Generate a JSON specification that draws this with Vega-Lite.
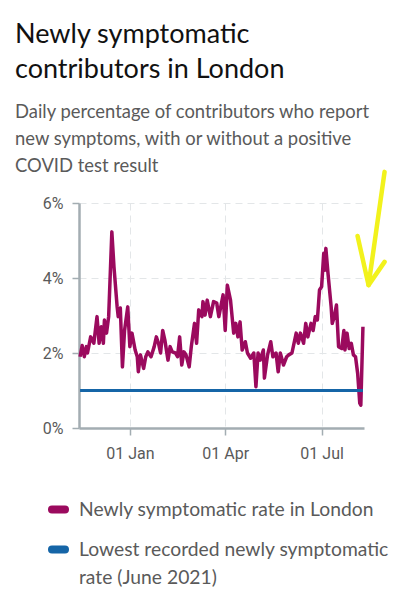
{
  "$schema": "https://vega.github.io/schema/vega-lite/v6.json",
  "width": 285,
  "height": 225,
  "autosize": {"type": "none"},
  "padding": {"left": 79, "top": 203, "right": 35, "bottom": 172},
  "background": "white",
  "config": {
    "view": {"stroke": null},
    "axis": {"labelFont": "Roboto", "labelFontSize": 16, "labelColor": "#5a5a5a", "domainColor": "#a3adb2", "domainWidth": 2.5, "tickColor": "#a3adb2", "tickWidth": 1.5, "tickSize": 7, "gridColor": "#e3e6e8", "gridDash": [7, 5], "gridWidth": 1, "title": null}
  },
  "title": {
    "text": ["Newly symptomatic", "contributors in London"],
    "subtitle": ["Daily percentage of contributors who report", "new symptoms, with or without a positive", "COVID test result"],
    "anchor": "start",
    "frame": "group",
    "dx": -64,
    "font": "Lato",
    "fontSize": 27,
    "fontWeight": "normal",
    "color": "#111111",
    "lineHeight": 35,
    "subtitleFont": "Lato",
    "subtitleFontSize": 18.4,
    "subtitleColor": "#5a5a5a",
    "subtitleLineHeight": 27,
    "subtitlePadding": 19,
    "offset": -7
  },
  "datasets": {
    "london": [
      {"date": "2021-11-15T00:00:00", "value": 1.9},
      {"date": "2021-11-17T00:00:00", "value": 2.2},
      {"date": "2021-11-19T00:00:00", "value": 1.9},
      {"date": "2021-11-21T00:00:00", "value": 2.17},
      {"date": "2021-11-22T00:00:00", "value": 2.0},
      {"date": "2021-11-25T00:00:00", "value": 2.43},
      {"date": "2021-11-28T00:00:00", "value": 2.26},
      {"date": "2021-12-01T00:00:00", "value": 2.97},
      {"date": "2021-12-03T00:00:00", "value": 2.26},
      {"date": "2021-12-05T00:00:00", "value": 2.7},
      {"date": "2021-12-07T00:00:00", "value": 2.26},
      {"date": "2021-12-08T00:00:00", "value": 2.88},
      {"date": "2021-12-10T00:00:00", "value": 2.53},
      {"date": "2021-12-12T00:00:00", "value": 2.97},
      {"date": "2021-12-15T00:00:00", "value": 5.23},
      {"date": "2021-12-17T00:00:00", "value": 4.3},
      {"date": "2021-12-20T00:00:00", "value": 3.23},
      {"date": "2021-12-21T00:00:00", "value": 2.97},
      {"date": "2021-12-23T00:00:00", "value": 3.2},
      {"date": "2021-12-25T00:00:00", "value": 1.63},
      {"date": "2021-12-27T00:00:00", "value": 2.6},
      {"date": "2021-12-30T00:00:00", "value": 3.23},
      {"date": "2022-01-01T00:00:00", "value": 2.17},
      {"date": "2022-01-03T00:00:00", "value": 2.53},
      {"date": "2022-01-06T00:00:00", "value": 2.08},
      {"date": "2022-01-08T00:00:00", "value": 1.9},
      {"date": "2022-01-09T00:00:00", "value": 1.5},
      {"date": "2022-01-11T00:00:00", "value": 1.95},
      {"date": "2022-01-14T00:00:00", "value": 1.59},
      {"date": "2022-01-16T00:00:00", "value": 1.9},
      {"date": "2022-01-18T00:00:00", "value": 2.03},
      {"date": "2022-01-21T00:00:00", "value": 1.9},
      {"date": "2022-01-24T00:00:00", "value": 2.17},
      {"date": "2022-01-26T00:00:00", "value": 2.43},
      {"date": "2022-01-28T00:00:00", "value": 2.26},
      {"date": "2022-01-30T00:00:00", "value": 2.0},
      {"date": "2022-02-01T00:00:00", "value": 2.6},
      {"date": "2022-02-03T00:00:00", "value": 2.35},
      {"date": "2022-02-06T00:00:00", "value": 1.81},
      {"date": "2022-02-08T00:00:00", "value": 2.17},
      {"date": "2022-02-10T00:00:00", "value": 2.03},
      {"date": "2022-02-13T00:00:00", "value": 2.0},
      {"date": "2022-02-15T00:00:00", "value": 1.9},
      {"date": "2022-02-17T00:00:00", "value": 2.43},
      {"date": "2022-02-19T00:00:00", "value": 1.68},
      {"date": "2022-02-21T00:00:00", "value": 2.03},
      {"date": "2022-02-23T00:00:00", "value": 1.95},
      {"date": "2022-02-26T00:00:00", "value": 1.63},
      {"date": "2022-02-28T00:00:00", "value": 2.17},
      {"date": "2022-03-03T00:00:00", "value": 2.79},
      {"date": "2022-03-05T00:00:00", "value": 2.26},
      {"date": "2022-03-07T00:00:00", "value": 3.15},
      {"date": "2022-03-10T00:00:00", "value": 2.97},
      {"date": "2022-03-11T00:00:00", "value": 3.37},
      {"date": "2022-03-13T00:00:00", "value": 3.01},
      {"date": "2022-03-15T00:00:00", "value": 3.41},
      {"date": "2022-03-18T00:00:00", "value": 2.97},
      {"date": "2022-03-21T00:00:00", "value": 3.37},
      {"date": "2022-03-24T00:00:00", "value": 3.33},
      {"date": "2022-03-26T00:00:00", "value": 2.97},
      {"date": "2022-03-30T00:00:00", "value": 3.55},
      {"date": "2022-04-01T00:00:00", "value": 2.6},
      {"date": "2022-04-03T00:00:00", "value": 3.81},
      {"date": "2022-04-06T00:00:00", "value": 3.41},
      {"date": "2022-04-09T00:00:00", "value": 2.53},
      {"date": "2022-04-11T00:00:00", "value": 2.79},
      {"date": "2022-04-13T00:00:00", "value": 2.43},
      {"date": "2022-04-15T00:00:00", "value": 2.83},
      {"date": "2022-04-17T00:00:00", "value": 2.08},
      {"date": "2022-04-20T00:00:00", "value": 2.3},
      {"date": "2022-04-22T00:00:00", "value": 2.0},
      {"date": "2022-04-25T00:00:00", "value": 1.86},
      {"date": "2022-04-28T00:00:00", "value": 2.0},
      {"date": "2022-04-30T00:00:00", "value": 1.1},
      {"date": "2022-05-02T00:00:00", "value": 2.0},
      {"date": "2022-05-04T00:00:00", "value": 1.81},
      {"date": "2022-05-07T00:00:00", "value": 2.08},
      {"date": "2022-05-08T00:00:00", "value": 1.33},
      {"date": "2022-05-11T00:00:00", "value": 1.95},
      {"date": "2022-05-14T00:00:00", "value": 2.3},
      {"date": "2022-05-16T00:00:00", "value": 1.9},
      {"date": "2022-05-19T00:00:00", "value": 2.0},
      {"date": "2022-05-21T00:00:00", "value": 1.5},
      {"date": "2022-05-23T00:00:00", "value": 2.0},
      {"date": "2022-05-26T00:00:00", "value": 1.68},
      {"date": "2022-05-29T00:00:00", "value": 1.9},
      {"date": "2022-05-31T00:00:00", "value": 1.95},
      {"date": "2022-06-03T00:00:00", "value": 2.0},
      {"date": "2022-06-07T00:00:00", "value": 2.53},
      {"date": "2022-06-09T00:00:00", "value": 2.26},
      {"date": "2022-06-11T00:00:00", "value": 2.53},
      {"date": "2022-06-14T00:00:00", "value": 2.26},
      {"date": "2022-06-16T00:00:00", "value": 2.79},
      {"date": "2022-06-18T00:00:00", "value": 2.43},
      {"date": "2022-06-21T00:00:00", "value": 2.79},
      {"date": "2022-06-23T00:00:00", "value": 2.6},
      {"date": "2022-06-25T00:00:00", "value": 2.97},
      {"date": "2022-06-27T00:00:00", "value": 2.88},
      {"date": "2022-06-29T00:00:00", "value": 3.68},
      {"date": "2022-07-01T00:00:00", "value": 3.77},
      {"date": "2022-07-03T00:00:00", "value": 4.66},
      {"date": "2022-07-04T00:00:00", "value": 4.21},
      {"date": "2022-07-05T00:00:00", "value": 4.79},
      {"date": "2022-07-07T00:00:00", "value": 4.13},
      {"date": "2022-07-10T00:00:00", "value": 3.23},
      {"date": "2022-07-11T00:00:00", "value": 2.79},
      {"date": "2022-07-13T00:00:00", "value": 2.97},
      {"date": "2022-07-15T00:00:00", "value": 3.28},
      {"date": "2022-07-17T00:00:00", "value": 2.17},
      {"date": "2022-07-20T00:00:00", "value": 2.12},
      {"date": "2022-07-22T00:00:00", "value": 2.6},
      {"date": "2022-07-23T00:00:00", "value": 2.08},
      {"date": "2022-07-25T00:00:00", "value": 2.53},
      {"date": "2022-07-27T00:00:00", "value": 2.12},
      {"date": "2022-07-29T00:00:00", "value": 2.26},
      {"date": "2022-07-31T00:00:00", "value": 1.95},
      {"date": "2022-08-02T00:00:00", "value": 1.9},
      {"date": "2022-08-04T00:00:00", "value": 1.46},
      {"date": "2022-08-06T00:00:00", "value": 0.66},
      {"date": "2022-08-07T00:00:00", "value": 0.61},
      {"date": "2022-08-09T00:00:00", "value": 2.7}
    ],
    "lowest": [
      {"date": "2021-11-15T00:00:00", "value": 1.0},
      {"date": "2022-08-09T00:00:00", "value": 1.0}
    ],
    "arrow": [
      {"part": "shaft", "order": 1, "date": "2022-08-29T10:00:00", "value": 6.83},
      {"part": "shaft", "order": 2, "date": "2022-08-14T07:00:00", "value": 3.81},
      {"part": "head", "order": 1, "date": "2022-08-03T22:00:00", "value": 5.12},
      {"part": "head", "order": 2, "date": "2022-08-14T07:00:00", "value": 3.81},
      {"part": "head", "order": 3, "date": "2022-08-29T10:00:00", "value": 4.43}
    ]
  },
  "layer": [
    {
      "data": {"name": "london"},
      "transform": [{"calculate": "'Newly symptomatic rate in London'", "as": "series"}],
      "mark": {"type": "line", "strokeWidth": 3.5, "strokeJoin": "round"},
      "encoding": {
        "x": {
          "field": "date", "type": "temporal",
          "scale": {"domain": [{"year": 2021, "month": 11, "date": 14}, {"year": 2022, "month": 8, "date": 10}]},
          "axis": {
            "values": [{"year": 2022, "month": 1, "date": 1}, {"year": 2022, "month": 4, "date": 1}, {"year": 2022, "month": 7, "date": 1}],
            "format": "%d %b", "labelPadding": 10, "grid": true
          }
        },
        "y": {
          "field": "value", "type": "quantitative",
          "scale": {"domain": [0, 6], "nice": false},
          "axis": {"values": [0, 2, 4, 6], "labelExpr": "datum.value + '%'", "labelPadding": 9, "grid": true}
        },
        "color": {
          "field": "series", "type": "nominal",
          "scale": {"domain": ["Newly symptomatic rate in London", "Lowest recorded newly symptomatic rate (June 2021)"], "range": ["#9b0a5e", "#1565a7"]},
          "legend": {
            "title": null,
            "orient": "none",
            "legendX": -31,
            "legendY": 296,
            "direction": "vertical",
            "symbolType": "stroke",
            "symbolSize": 169,
            "symbolStrokeWidth": 8,
            "labelFont": "Lato",
            "labelFontSize": 19.3,
            "labelColor": "#5a5a5a",
            "labelOffset": 10,
            "labelLimit": 400,
            "labelBaseline": "alphabetic",
            "rowPadding": 7,
            "labelExpr": "datum.label == 'Lowest recorded newly symptomatic rate (June 2021)' ? ['Lowest recorded newly symptomatic', 'rate (June 2021)'] : datum.label",
            "encode": {
              "symbols": {"update": {"strokeCap": {"value": "round"}}},
              "labels": {"update": {"dy": {"value": 6}, "lineHeight": {"value": 28}}}
            }
          }
        }
      }
    },
    {
      "data": {"name": "lowest"},
      "transform": [{"calculate": "'Lowest recorded newly symptomatic rate (June 2021)'", "as": "series"}],
      "mark": {"type": "line", "strokeWidth": 3},
      "encoding": {
        "x": {"field": "date", "type": "temporal"},
        "y": {"field": "value", "type": "quantitative"},
        "color": {"field": "series", "type": "nominal"}
      }
    },
    {
      "data": {"name": "arrow"},
      "mark": {"type": "line", "color": "#f2f21c", "strokeWidth": 4.5, "strokeCap": "round", "strokeJoin": "round", "clip": false},
      "encoding": {
        "x": {"field": "date", "type": "temporal"},
        "y": {"field": "value", "type": "quantitative"},
        "detail": {"field": "part"},
        "order": {"field": "order", "type": "quantitative"}
      }
    }
  ]
}
